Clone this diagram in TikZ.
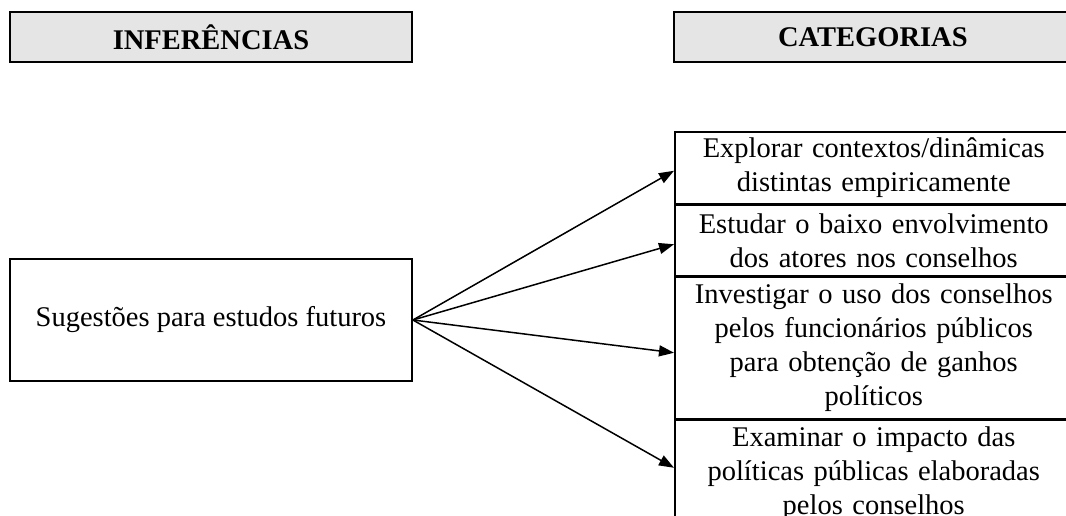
\documentclass[tikz,border=0pt]{standalone}
\usepackage{fontspec}
\setmainfont{Liberation Serif}
\usetikzlibrary{positioning,arrows.meta}

\begin{document}
\begin{tikzpicture}[x=1pt, y=-1pt,
  header/.style={draw=black, line width=1.8pt, fill=black!10, minimum width=402pt, minimum height=50pt, font=\fontsize{28.5}{34}\selectfont\bfseries},
  catbox/.style={draw=black, line width=1.5pt, text width=398pt, align=center, inner xsep=0pt, inner ysep=0pt, font=\fontsize{28.5}{34}\selectfont},
  conn/.style={line width=1.5pt, -{Triangle[length=15pt,width=11pt]}}]
\useasboundingbox (0,0) rectangle (1066,515);
\clip (0,0) rectangle (1066,515);

% headers
\node[header] (infer) at (211,37) {INFERÊNCIAS};
\node[header, minimum width=398pt, anchor=west] (categ) at (673,37) {CATEGORIAS};

% inference
\node[draw=black, line width=1.8pt, minimum width=402pt, minimum height=122pt, font=\fontsize{28.5}{34}\selectfont] (sugest) at (211,320) {Sugestões para estudos futuros};

% categories
\node[catbox, minimum height=72pt, anchor=north west] (explorar) at (674,131) {Explorar contextos/dinâmicas\\distintas empiricamente};
\node[catbox, minimum height=70pt, below=0pt of explorar] (estudar) {Estudar o baixo envolvimento\\dos atores nos conselhos};
\node[catbox, minimum height=142pt, below=0pt of estudar] (investigar) {Investigar o uso dos conselhos\\pelos funcionários públicos\\para obtenção de ganhos\\políticos};
\node[catbox, minimum height=107pt, below=0pt of investigar] (examinar) {Examinar o impacto das\\políticas públicas elaboradas\\pelos conselhos};

\draw[conn] (sugest.east) -- ([yshift=-3pt]explorar.west);
\draw[conn] (sugest.east) -- ([yshift=-4pt]estudar.west);
\draw[conn] (sugest.east) -- ([yshift=-5pt]investigar.west);
\draw[conn] (sugest.east) -- ([yshift=6pt]examinar.west);

\end{tikzpicture}
\end{document}
